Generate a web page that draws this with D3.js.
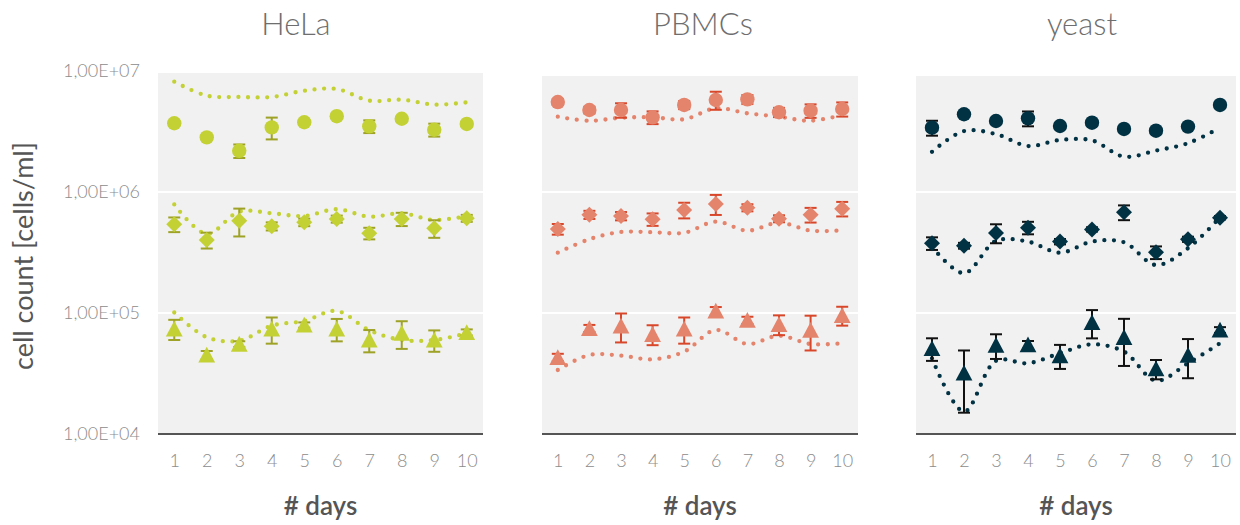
<!DOCTYPE html>
<html>
<head>
<meta charset="utf-8">
<script src="https://cdn.jsdelivr.net/npm/d3@7"></script>
<style>
  body { margin: 0; background: #fff; }
  text { font-family: Lato, "Open Sans", sans-serif; }
</style>
</head>
<body>
<svg id="chart" width="1240" height="525"></svg>
<script>
// ---- data ----
const days = [1, 2, 3, 4, 5, 6, 7, 8, 9, 10];
const cellTypes = ["HeLa", "PBMCs", "yeast"];
const yTickValues = [1e4, 1e5, 1e6, 1e7];
const yTickLabels = ["1,00E+04", "1,00E+05", "1,00E+06", "1,00E+07"];
const xTitle = "# days";
const yTitle = "cell count [cells/ml]";

// HeLa
const helaCircle       = [3.70e6, 2.83e6, 2.19e6, 3.42e6, 3.77e6, 4.23e6, 3.49e6, 4.03e6, 3.27e6, 3.65e6];
const helaCircleErr    = [0.15e6, 0.10e6, 0.28e6, 0.70e6, 0.15e6, 0.15e6, 0.42e6, 0.15e6, 0.40e6, 0.15e6];
const helaCircleTrend  = [8.16e6, 6.25e6, 6.10e6, 6.10e6, 6.87e6, 7.10e6, 5.69e6, 5.79e6, 5.27e6, 5.51e6];
const helaDiamond      = [5.41e5, 4.01e5, 5.79e5, 5.21e5, 5.62e5, 5.98e5, 4.56e5, 5.98e5, 5.01e5, 6.07e5];
const helaDiamondErr   = [0.75e5, 0.60e5, 1.50e5, 0.40e5, 0.40e5, 0.40e5, 0.50e5, 0.75e5, 0.83e5, 0.40e5];
const helaDiamondTrend = [7.90e5, 4.50e5, 6.88e5, 6.67e5, 6.33e5, 7.20e5, 6.25e5, 6.67e5, 5.87e5, 6.33e5];
const helaTriangle     = [7.38e4, 4.50e4, 5.54e4, 7.38e4, 7.96e4, 7.38e4, 5.98e4, 6.80e4, 5.98e4, 6.92e4];
const helaTriangleErr  = [1.40e4, 0.35e4, 0.30e4, 1.80e4, 0.40e4, 1.55e4, 1.25e4, 1.75e4, 1.20e4, 0.40e4];
const helaTriangleTrend= [1.01e5, 6.30e4, 5.90e4, 7.85e4, 8.60e4, 1.04e5, 7.20e4, 5.98e4, 5.98e4, 6.80e4];

// PBMCs
const pbmcCircle       = [5.54e6, 4.76e6, 4.76e6, 4.14e6, 5.24e6, 5.76e6, 5.83e6, 4.56e6, 4.70e6, 4.85e6];
const pbmcCircleErr    = [0.30e6, 0.30e6, 0.65e6, 0.50e6, 0.40e6, 0.98e6, 0.50e6, 0.40e6, 0.60e6, 0.65e6];
const pbmcCircleTrend  = [4.19e6, 3.88e6, 4.11e6, 4.14e6, 3.99e6, 4.92e6, 4.47e6, 4.19e6, 3.88e6, 4.33e6];
const pbmcDiamond      = [4.94e5, 6.49e5, 6.33e5, 5.95e5, 7.10e5, 7.96e5, 7.42e5, 6.02e5, 6.49e5, 7.28e5];
const pbmcDiamondErr   = [0.50e5, 0.50e5, 0.50e5, 0.70e5, 1.05e5, 1.50e5, 0.50e5, 0.40e5, 0.90e5, 1.00e5];
const pbmcDiamondTrend = [3.15e5, 4.07e5, 4.67e5, 4.65e5, 4.60e5, 5.69e5, 4.79e5, 5.58e5, 4.79e5, 4.82e5];
const pbmcTriangle     = [4.30e4, 7.47e4, 7.81e4, 6.67e4, 7.38e4, 1.04e5, 8.71e4, 8.06e4, 7.20e4, 9.56e4];
const pbmcTriangleErr  = [0.30e4, 0.50e4, 2.10e4, 1.25e4, 1.80e4, 0.80e4, 0.60e4, 1.50e4, 2.30e4, 1.70e4];
const pbmcTriangleTrend= [3.38e4, 4.50e4, 4.44e4, 4.14e4, 4.79e4, 7.24e4, 5.54e4, 6.49e4, 5.54e4, 5.62e4];

// yeast
const yeastCircle       = [3.40e6, 4.39e6, 3.86e6, 4.06e6, 3.51e6, 3.74e6, 3.32e6, 3.21e6, 3.47e6, 5.24e6];
const yeastCircleErr    = [0.48e6, 0.15e6, 0.15e6, 0.57e6, 0.15e6, 0.15e6, 0.15e6, 0.15e6, 0.15e6, 0.15e6];
const yeastCircleTrend  = [2.15e6, 3.19e6, 3.01e6, 2.40e6, 2.69e6, 2.67e6, 1.96e6, 2.20e6, 2.53e6, 3.40e6];
const yeastDiamond      = [3.77e5, 3.60e5, 4.59e5, 5.07e5, 3.89e5, 4.91e5, 6.80e5, 3.17e5, 4.07e5, 6.13e5];
const yeastDiamondErr   = [0.45e5, 0.20e5, 0.82e5, 0.60e5, 0.20e5, 0.20e5, 0.95e5, 0.38e5, 0.20e5, 0.20e5];
const yeastDiamondTrend = [3.53e5, 2.13e5, 3.94e5, 3.89e5, 3.15e5, 3.89e5, 3.84e5, 2.49e5, 3.43e5, 6.18e5];
const yeastTriangle     = [5.10e4, 3.20e4, 5.42e4, 5.47e4, 4.45e4, 8.37e4, 6.30e4, 3.46e4, 4.49e4, 7.24e4];
const yeastTriangleErr  = [1.08e4, 1.70e4, 1.25e4, 0.40e4, 1.00e4, 2.20e4, 2.65e4, 0.63e4, 1.60e4, 0.40e4];
const yeastTriangleTrend= [4.22e4, 1.53e4, 4.03e4, 3.84e4, 4.65e4, 5.51e4, 4.79e4, 2.76e4, 3.84e4, 5.62e4];

// ---- table assembled for drawing ----
const panels = [
  { name: cellTypes[0], fill: "#c3d135", bar: "#9ea226", x0: 158, x1: 483, top: 73, titleX: 296,
    series: [
      { shape: "circle",   v: helaCircle,   e: helaCircleErr,   t: helaCircleTrend },
      { shape: "diamond",  v: helaDiamond,  e: helaDiamondErr,  t: helaDiamondTrend },
      { shape: "triangle", v: helaTriangle, e: helaTriangleErr, t: helaTriangleTrend } ] },
  { name: cellTypes[1], fill: "#e5846c", bar: "#d9472b", x0: 542, x1: 858, top: 76, titleX: 703,
    series: [
      { shape: "circle",   v: pbmcCircle,   e: pbmcCircleErr,   t: pbmcCircleTrend },
      { shape: "diamond",  v: pbmcDiamond,  e: pbmcDiamondErr,  t: pbmcDiamondTrend },
      { shape: "triangle", v: pbmcTriangle, e: pbmcTriangleErr, t: pbmcTriangleTrend } ] },
  { name: cellTypes[2], fill: "#003244", bar: "#111111", x0: 916, x1: 1236, top: 76, titleX: 1082,
    series: [
      { shape: "circle",   v: yeastCircle,   e: yeastCircleErr,   t: yeastCircleTrend },
      { shape: "diamond",  v: yeastDiamond,  e: yeastDiamondErr,  t: yeastDiamondTrend },
      { shape: "triangle", v: yeastTriangle, e: yeastTriangleErr, t: yeastTriangleTrend } ] }
];

const svg = d3.select("#chart");
const yBottom = 434;
const y = d3.scaleLog().domain([1e4, 1e7]).range([yBottom, 71]);

// marker glyphs centred on (0,0)
const glyph = {
  circle:   d3.symbol().type(d3.symbolCircle).size(Math.PI * 7.2 * 7.2)(),
  diamond:  "M0,-8L8,0L0,8L-8,0Z",
  triangle: "M0,-8.2L8.4,7.6L-8.4,7.6Z"
};

panels.forEach(p => {
  const x = d3.scalePoint().domain(days).range([p.x0, p.x1]).padding(0.5);
  const g = svg.append("g");

  // plot background
  g.append("rect").attr("x", p.x0).attr("y", p.top)
    .attr("width", p.x1 - p.x0).attr("height", yBottom - p.top).attr("fill", "#f1f1f1");

  // white gridlines
  g.selectAll("line.grid").data(yTickValues.slice(1, 3)).join("line")
    .attr("x1", p.x0).attr("x2", p.x1)
    .attr("y1", d => y(d)).attr("y2", d => y(d))
    .attr("stroke", "#fff").attr("stroke-width", 2);

  // bottom axis
  const ax = g.append("g").attr("transform", `translate(0,${yBottom})`)
    .call(d3.axisBottom(x).tickSize(0).tickPadding(20));
  ax.select(".domain").attr("d", `M${p.x0},0H${p.x1}`).attr("stroke", "#555").attr("stroke-width", 2);
  ax.selectAll("text").attr("font-size", 18).attr("font-weight", 300).attr("fill", "#8c8c8c")
    .attr("font-family", "Lato, sans-serif");

  // dotted trend curves
  const line = d3.line().x((d, i) => x(days[i])).y(d => y(d)).curve(d3.curveCatmullRom.alpha(0.5));
  p.series.forEach(s => {
    g.append("path").attr("d", line(s.t)).attr("fill", "none")
      .attr("stroke", p.fill).attr("stroke-width", 4.3)
      .attr("stroke-linecap", "round").attr("stroke-dasharray", "0 9.6");
  });

  // error bars and markers
  p.series.forEach(s => {
    const eb = g.append("g");
    s.v.forEach((v, i) => {
      const cx = x(days[i]);
      const yHi = y(v + s.e[i]), yLo = y(v - s.e[i]);
      eb.append("line").attr("x1", cx).attr("x2", cx).attr("y1", yHi).attr("y2", yLo)
        .attr("stroke", p.bar).attr("stroke-width", 2);
      [yHi, yLo].forEach(yy => eb.append("line")
        .attr("x1", cx - 6).attr("x2", cx + 6).attr("y1", yy).attr("y2", yy)
        .attr("stroke", p.bar).attr("stroke-width", 2));
    });
    g.selectAll(null).data(s.v).join("path")
      .attr("d", glyph[s.shape])
      .attr("transform", (d, i) => `translate(${x(days[i])},${y(d)})`)
      .attr("fill", p.fill);
  });

  // panel title
  svg.append("text").attr("x", p.titleX).attr("y", 35).attr("text-anchor", "middle")
    .attr("font-size", 31).attr("font-weight", 300).attr("fill", "#6e6e6e").text(p.name);

  // x-axis title
  svg.append("text").attr("x", (p.x0 + p.x1) / 2).attr("y", 515).attr("text-anchor", "middle")
    .attr("font-size", 26).attr("font-weight", 600).attr("fill", "#555").text(xTitle);
});

// y tick labels
svg.selectAll("text.ytick").data(yTickValues).join("text")
  .attr("x", 140).attr("y", d => y(d) + 2).attr("text-anchor", "end")
  .attr("dominant-baseline", "middle").attr("font-size", 18).attr("font-weight", 300)
  .attr("fill", "#8c8c8c").text((d, i) => yTickLabels[i]);

// y-axis title
svg.append("text").attr("transform", "translate(33,256) rotate(-90)")
  .attr("text-anchor", "middle").attr("font-size", 27).attr("fill", "#555").text(yTitle);
</script>
</body>
</html>
